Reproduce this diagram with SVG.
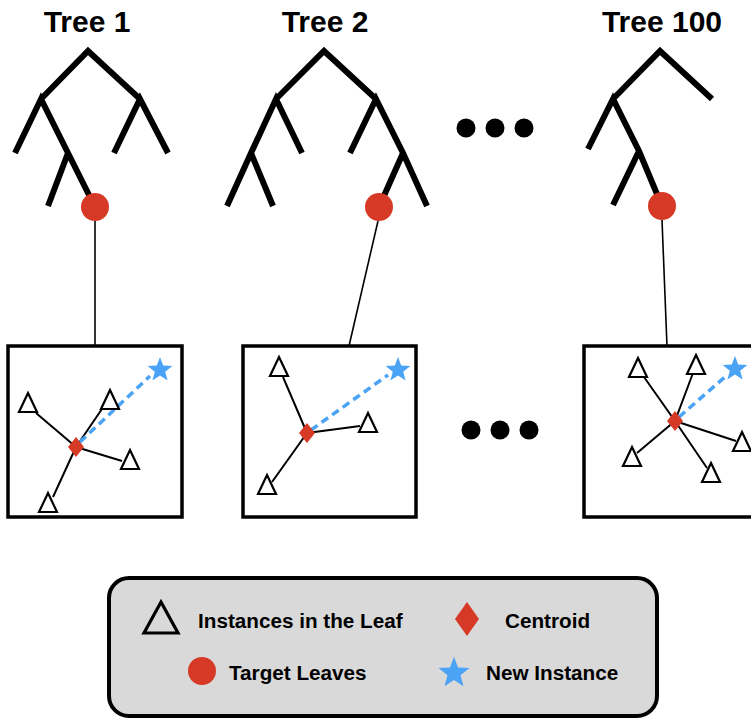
<svg xmlns="http://www.w3.org/2000/svg" width="751" height="719" viewBox="0 0 751 719">
<style>
.title{font-family:"Liberation Sans",Arial,sans-serif;font-weight:bold;font-size:30px;fill:#000;text-anchor:middle}
.br{stroke:#000;stroke-width:6;fill:none;stroke-linecap:butt;stroke-linejoin:miter}
.leaf{fill:#d63a26}
.box{fill:#fff;stroke:#000;stroke-width:3.5}
.tri{fill:#fff;stroke:#000;stroke-width:2.2;stroke-linejoin:miter}
.edge{stroke:#000;stroke-width:2;fill:none}
.dash{stroke:#4ba3f5;stroke-width:3.5;stroke-dasharray:8 5;fill:none}
.cen{fill:#d63a26}
.star{fill:#4ba3f5}
.conn{stroke:#000;stroke-width:1.6;fill:none}
.lt{font-family:"Liberation Sans",Arial,sans-serif;font-weight:bold;font-size:20.7px;fill:#000}
</style>
<defs>
<path id="tri" class="tri" d="M0,-10 L9,9 L-9,9 Z"/>
<path id="star" class="star" d="M0,-13 L3.2,-4.4 L12.4,-4 L5.2,1.7 L7.6,10.5 L0,5.5 L-7.6,10.5 L-5.2,1.7 L-12.4,-4 L-3.2,-4.4 Z"/>
<path id="dia" class="cen" d="M0,-10 L8,0 L0,10 L-8,0 Z"/>
</defs>
<rect width="751" height="719" fill="#fff"/>

<g id="tree1">
<text class="title" x="87" y="32">Tree 1</text>
<path class="br" d="M41,99 L88,51 L140,99 M15,153 L41,99 L68,153 L95,207 M48,206 L68,153 M114,153 L140,99 L168,153"/>
<circle class="leaf" cx="95" cy="207" r="14"/>
</g>

<g id="tree2">
<text class="title" x="325" y="32">Tree 2</text>
<path class="br" d="M276,99 L324,51 L376,99 M227,206 L251,153 L276,99 L302,153 M273,206 L251,153 M350,153 L376,99 L403,153 L427,206 M403,153 L379,207"/>
<circle class="leaf" cx="379" cy="207" r="14"/>
</g>

<g id="tree100">
<text class="title" x="662" y="32">Tree 100</text>
<path class="br" d="M613,99 L660,51 L712,99 M588,149 L613,99 L639,151 L662,206 M613,205 L639,151"/>
<circle class="leaf" cx="662" cy="206" r="14"/>
</g>

<g id="dots-top" fill="#000">
<circle cx="466" cy="128" r="9.5"/>
<circle cx="495" cy="128" r="9.5"/>
<circle cx="524" cy="128" r="9.5"/>
</g>

<g id="connectors">
<line class="conn" x1="95" y1="221" x2="95" y2="346"/>
<line class="conn" x1="378" y1="221" x2="349" y2="346"/>
<line class="conn" x1="662" y1="220" x2="667" y2="346"/>
</g>

<g id="box1">
<rect class="box" x="8" y="346" width="174" height="171"/>
<path class="edge" d="M76,447 L36,413 M76,447 L104,406 M76,447 L122,461 M76,447 L53,497"/>
<line class="dash" x1="80" y1="442" x2="150" y2="376"/>
<use href="#tri" x="28" y="403"/>
<use href="#tri" x="110" y="400"/>
<use href="#tri" x="130" y="460"/>
<use href="#tri" x="48" y="503"/>
<use href="#dia" x="76" y="447"/>
<use href="#star" x="160" y="370"/>
</g>

<g id="box2">
<rect class="box" x="243" y="346" width="173" height="171"/>
<path class="edge" d="M307,433 L283,377 M307,433 L360,426 M307,433 L272,482"/>
<line class="dash" x1="311" y1="430" x2="388" y2="375"/>
<use href="#tri" x="279" y="367"/>
<use href="#tri" x="368" y="423"/>
<use href="#tri" x="267" y="485"/>
<use href="#dia" x="307" y="433"/>
<use href="#star" x="398" y="370"/>
</g>

<g id="dots-bottom" fill="#000">
<circle cx="471" cy="430" r="9.5"/>
<circle cx="500" cy="430" r="9.5"/>
<circle cx="529" cy="430" r="9.5"/>
</g>

<g id="box3">
<rect class="box" x="584" y="346" width="180" height="171"/>
<path class="edge" d="M675,421 L644,377 M675,421 L693,373 M675,421 L736,441 M675,421 L637,453 M675,421 L707,468"/>
<line class="dash" x1="679" y1="417" x2="726" y2="376"/>
<use href="#tri" x="638" y="368"/>
<use href="#tri" x="696" y="365"/>
<use href="#tri" x="742" y="442"/>
<use href="#tri" x="632" y="457"/>
<use href="#tri" x="711" y="473"/>
<use href="#dia" x="675" y="421"/>
<use href="#star" x="735" y="369"/>
</g>

<g id="legend">
<rect x="109" y="578" width="548" height="138" rx="20" ry="20" fill="#d9d9d9" stroke="#000" stroke-width="4"/>
<path d="M161,602 L178,633 L144,633 Z" fill="none" stroke="#000" stroke-width="3.2" stroke-linejoin="miter"/>
<text class="lt" x="198" y="628">Instances in the Leaf</text>
<path class="cen" d="M467,602 L479,619 L467,636 L455,619 Z"/>
<text class="lt" x="505" y="628">Centroid</text>
<circle class="leaf" cx="202" cy="671" r="14"/>
<text class="lt" x="229" y="680">Target Leaves</text>
<use href="#star" transform="translate(454,673) scale(1.25)"/>
<text class="lt" x="486" y="680">New Instance</text>
</g>
</svg>
